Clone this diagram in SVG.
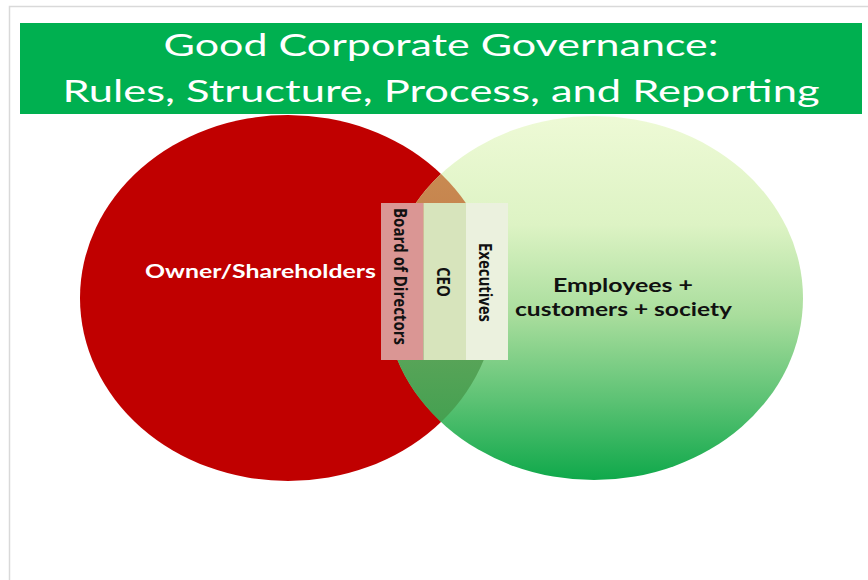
<svg xmlns="http://www.w3.org/2000/svg" width="868" height="580" viewBox="0 0 868 580">
<defs>
<linearGradient id="gGreen" x1="0" y1="115" x2="0" y2="481" gradientUnits="userSpaceOnUse">
<stop offset="0" stop-color="#EEFAD6"/>
<stop offset="0.3" stop-color="#DDF3C4"/>
<stop offset="0.55" stop-color="#A8DD9C"/>
<stop offset="0.78" stop-color="#5CC274"/>
<stop offset="1" stop-color="#0EA84A"/>
</linearGradient>
<linearGradient id="gLens" x1="0" y1="170" x2="0" y2="430" gradientUnits="userSpaceOnUse">
<stop offset="0" stop-color="#C98A52"/>
<stop offset="0.15" stop-color="#C6854E"/>
<stop offset="0.5" stop-color="#8C9A5E"/>
<stop offset="0.72" stop-color="#58A458"/>
<stop offset="1" stop-color="#42A050"/>
</linearGradient>
<clipPath id="clipRed"><ellipse cx="288" cy="298" rx="208" ry="183"/></clipPath>
<style>
.frame{stroke:#D9D9D9;stroke-width:1.5;fill:none}
.title{font-family:Lato,"Open Sans","Liberation Sans",sans-serif;font-size:31px;fill:#FFFFFF;text-anchor:middle}
.lbl{font-family:Lato,"Open Sans","Liberation Sans",sans-serif;font-weight:bold;font-size:19px;text-anchor:middle}
.vlbl{font-family:"Open Sans",Lato,"Liberation Sans",sans-serif;font-weight:bold;font-size:18px;fill:#111111;text-anchor:middle}
</style>
</defs>
<rect x="0" y="0" width="868" height="580" fill="#FFFFFF"/>
<path class="frame" d="M9.5 580 V6.5 H868"/>
<g id="banner">
<rect x="20" y="23" width="842" height="91" fill="#00B050"/>
<text class="title" x="441" y="56" textLength="555" lengthAdjust="spacingAndGlyphs">Good Corporate Governance:</text>
<text class="title" x="441" y="102" textLength="757" lengthAdjust="spacingAndGlyphs">Rules, Structure, Process, and Reporting</text>
</g>
<g id="owners">
<ellipse cx="288" cy="298" rx="208" ry="183" fill="#C00000"/>
</g>
<g id="stakeholders">
<ellipse cx="594" cy="298" rx="209" ry="182" fill="url(#gGreen)"/>
<ellipse cx="594" cy="298" rx="209" ry="182" fill="url(#gLens)" clip-path="url(#clipRed)"/>
</g>
<text class="lbl" x="260.5" y="278" fill="#FFFFFF" textLength="231" lengthAdjust="spacingAndGlyphs">Owner/Shareholders</text>
<text class="lbl" x="623" y="292" fill="#111111" textLength="140" lengthAdjust="spacingAndGlyphs">Employees +</text>
<text class="lbl" x="623.5" y="316" fill="#111111" textLength="217" lengthAdjust="spacingAndGlyphs">customers + society</text>
<g id="board">
<rect x="381" y="203" width="42.5" height="157" fill="#DA9694"/>
<text class="vlbl" transform="translate(393.5,276.5) rotate(90)" textLength="137" lengthAdjust="spacingAndGlyphs">Board of Directors</text>
</g>
<g id="ceo">
<rect x="423.5" y="203" width="42.5" height="157" fill="#D7E4BC"/>
<text class="vlbl" transform="translate(437,282) rotate(90)" textLength="30" lengthAdjust="spacingAndGlyphs">CEO</text>
</g>
<g id="executives">
<rect x="466" y="203" width="42" height="157" fill="#EBF1DE"/>
<text class="vlbl" transform="translate(479,282.5) rotate(90)" textLength="79" lengthAdjust="spacingAndGlyphs">Executives</text>
</g>
<g id="connectors"/>
</svg>
